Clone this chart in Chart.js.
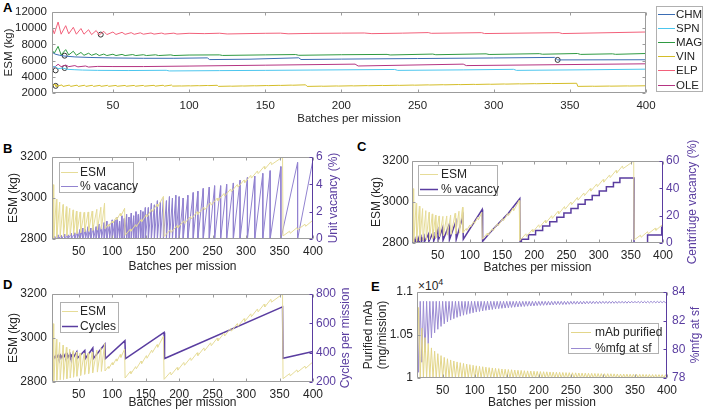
<!DOCTYPE html>
<html>
<head>
<meta charset="utf-8">
<script src="https://cdn.jsdelivr.net/npm/chart.js@4.4.0/dist/chart.umd.min.js"></script>
<style>
  body { margin: 0; background: #fff; width: 708px; height: 414px; position: relative; overflow: hidden; font-family: "Liberation Sans", Arial, sans-serif; }
  canvas { position: absolute; }
  .tag { position: absolute; font-weight: bold; font-size: 13px; color: #000; }
  .mult { position: absolute; font-size: 12px; color: #262626; }
  .mult sup { font-size: 9px; }
</style>
</head>
<body>
<div class="tag" style="left:3px;top:0px">A</div>
<div class="tag" style="left:3px;top:141px">B</div>
<div class="tag" style="left:357px;top:139px">C</div>
<div class="tag" style="left:3px;top:277px">D</div>
<div class="tag" style="left:371px;top:279px">E</div>
<div class="mult" style="left:418px;top:277px">×10<sup>4</sup></div>

<canvas id="chartA" width="708" height="132" style="left:0;top:0"></canvas>
<canvas id="chartB" width="354" height="138" style="left:0;top:140px"></canvas>
<canvas id="chartC" width="354" height="138" style="left:354px;top:140px"></canvas>
<canvas id="chartD" width="354" height="136" style="left:0;top:278px"></canvas>
<canvas id="chartE" width="354" height="136" style="left:354px;top:278px"></canvas>

<script>
// tick labels
const xTicks = [50, 100, 150, 200, 250, 300, 350, 400];
const esmTicksA = [2000, 4000, 6000, 8000, 10000, 12000];
const esmTicks = [2800, 3000, 3200];
const unitVacTicks = [0, 2, 4, 6];
const cenVacTicks = [0, 20, 40, 60];
const cycleTicks = [200, 400, 600, 800];
const mabTicks = [10000, 10500, 11000];
const mfgTicks = [78, 80, 82, 84];

// panel A: ESM (kg) vs batches per mission, [batches, ESM]
const systems = ["CHM", "SPN", "MAG", "VIN", "ELP", "OLE"];
const chm = [[10,7050],[12,6800],[15,6650],[18,6560],[25,6450],[35,6380],[50,6320],[70,6280],[90,6280],[112,6330],[113.5,6120],[140,6170],[172,6340],[173.5,6130],[200,6180],[250,6250],[300,6320],[340,6390],[342,6080],[400,6100]];
const spn = [[10,5150],[12,5280],[14,5000],[17,5080],[20,4920],[25,4870],[30,4830],[40,4790],[60,4770],[85,4800],[87,4720],[120,4760],[150,4790],[180,4830],[235,4900],[237,4790],[280,4850],[313,4920],[315,4790],[360,4860],[400,4940]];
const mag = [[10,7300],[11.5,6900],[14,7750],[16,6700],[19,7350],[21,6700],[24,7150],[26,6650],[29,7000],[31,6650],[34,6900],[36,6650],[39,6850],[41,6620],[44,6800],[46,6620],[50,6780],[52,6620],[56,6760],[58,6620],[63,6740],[65,6620],[70,6720],[72,6620],[78,6710],[80,6620],[88,6700],[90,6620],[100,6680],[120,6700],[122,6630],[150,6700],[170,6740],[172,6650],[200,6720],[230,6760],[232,6690],[260,6800],[262,6720],[295,6830],[297,6750],[330,6850],[332,6780],[355,6870],[357,6760],[378,6830],[380,6770],[400,6870]];
const elp = [[10,10150],[11.5,9300],[14,10750],[16,9250],[19,10300],[21,9300],[24,10100],[26,9250],[29,9950],[31,9250],[34,9800],[36,9200],[39,9700],[41,9150],[44,9600],[46,9200],[50,9520],[52,9220],[56,9480],[58,9230],[62,9440],[64,9240],[68,9420],[70,9250],[75,9400],[77,9260],[82,9390],[84,9270],[90,9380],[92,9270],[100,9360],[110,9320],[120,9370],[125,9280],[140,9330],[150,9360],[160,9380],[165,9300],[180,9350],[200,9380],[215,9400],[220,9320],[240,9380],[257,9450],[259,9360],[292,9440],[294,9330],[343,9440],[345,9330],[400,9520]];
const ole = [[10,5350],[11.5,5150],[14,5550],[16,5250],[19,5450],[21,5250],[25,5380],[27,5220],[32,5330],[34,5200],[40,5280],[50,5260],[70,5260],[100,5320],[150,5430],[209,5560],[211,5330],[280,5560],[282,5380],[400,5600]];
// VIN ESM, also the ESM line of panels B, C and D
const esm = [[10,2900],[12,3065],[12.6,2805],[16.5,2995],[17.2,2808],[21.5,2980],[22.2,2810],[26.5,2968],[27.2,2812],[31.5,2958],[32.2,2815],[36.5,2950],[37.2,2818],[41.5,2942],[42.2,2822],[46.5,2936],[47.2,2826],[52,2932],[52.8,2830],[58,2930],[58.8,2835],[64,2932],[64.8,2838],[70,2936],[70.8,2842],[77,2945],[77.8,2845],[83,2955],[83.8,2848],[88.5,2975],[89.2,2850],
  [94,2870],[95,2862],[100,2888],[101,2878],[106,2905],[107,2895],[112,2925],[113,2912],[118.5,2950],[119.2,2818],[127,2848],[128,2838],[135,2870],[136,2860],[143,2895],[144,2884],[151,2920],[152,2908],[159,2945],[160,2934],[167,2970],[168,2958],[176.5,3008],[177.5,2812],
  [187,2845],[188,2832],[197,2866],[198,2854],[207,2889],[208,2876],[217,2910],[218,2898],[227,2933],[228,2920],[237,2955],[238,2942],[247,2978],[248,2965],[257,3000],[258,2987],[267,3022],[268,3009],[277,3044],[278,3031],[287,3066],[288,3053],[297,3088],[298,3075],[307,3110],[308,3097],[317,3132],[318,3119],[327,3154],[328,3141],[337,3176],[338,3163],[354.5,3200],[355.2,2815],
  [365,2838],[366,2828],[376,2855],[377,2845],[388,2872],[389,2862],[400,2892]];
// selected designs (circles in panel A)
const markX = [12.4, 12.4, 18.3, 18.3, 42, 342];
const markY = [2880, 4790, 5080, 6600, 9200, 6080];

// panel B: unit vacancy (%), teeth as [batches at drop, peak]
const vacBStart = [10, 0];
const vacBFloor = 0;
const vacBTeeth = [[14,0.2],[19,0.3],[24,0.25],[29,0.35],[34,0.3],[39,0.4],[44,0.45],
  [48,0.6],[52,0.7],[56,0.8],[60,0.7],[64,0.9],[68,0.8],[72,1.0],[76,0.9],[80,1.1],[84,1.0],[88,1.2],[92,1.3],[96,1.1],[100,1.4],
  [104,1.4],[107.5,1.6],[111,1.3],[114.5,1.7],[118,1.5],[121.5,1.8],[125,1.6],[128.5,1.9],[132,1.7],[135.5,2.0],[139,1.8],[142.5,2.1],[146,2.0],[149.5,2.3],
  [154,2.3],[158.5,2.6],[163,2.5],[167.5,2.8],[172,2.7],[176.5,3.0],[181,2.8],[185.5,3.1],[190,3.0],[195,3.2],[200,3.1],
  [206,3.0],[213,3.2],[221,3.4],[228,3.5],[236,3.7],[245,3.8],[253,3.9],[262,3.9],
  [271,4.0],[281,4.1],[291,4.3],[302,4.5],[313,4.6],[325,4.8],[336,5.0],[352,5.3],[377,5.6]];
const vacBEnd = [400, 5.8];

// panel C: centrifuge vacancy (%)
const vacC = [[10,0.3],[11.5,2.5],[12.2,0.2],[14.5,2.8],[15.2,0.4],[17.5,3.2],[18.2,0.6],[20.5,3.6],[21.2,0.8],[24,4.2],[24.7,1],[28.5,5],[29.2,0.8],[35.5,6.5],[36.2,1.2],[43,8],[43.7,1.5],[50,9.5],[50.7,1.8],[57.5,11],[58.2,2],[67.5,13],[68.2,2.4],[78,15.5],[78.7,2.6],[89,19.5],[89.7,2.8],[119,24.5],[119.7,1.2],[130,7],[140,12],[150,17],[160,22],[170,28],[177.5,32.5],[178,0],
  [180,0],[180,2.8],[191,2.8],[191,6],[202,6],[202,9.2],[213,9.2],[213,12.4],[224,12.4],[224,15.6],[235,15.6],[235,18.8],[246,18.8],[246,22],[257,22],[257,25.2],[268,25.2],[268,28.4],[279,28.4],[279,31.6],[290,31.6],[290,34.8],[301,34.8],[301,38],[312,38],[312,41.2],[323,41.2],[323,44.2],[333,44.2],[333,47.5],[355,47.5],[355,0],[376,0],[376,5.8],[398,5.8],[398,11.6],[400,11.6]];

// panel D: cycles per mission
const cycles = [[10,365],[12,378],[13,362],[15.5,380],[16.5,363],[19,382],[20,364],[22.5,383],[23.5,364],[26,385],[27,365],[29.5,386],[30.5,366],[33,388],[34,367],[37,390],[38,368],[41,392],[42,368],[47,405],[47.8,362],[59,415],[59.8,360],[71,432],[71.8,360],[89,458],[89.8,360],[119,482],[119.8,360],[177.5,538],[178.2,360],[354.5,712],[355.2,362],[400,408]];

// panel E: purified mAb (mg/mission) and % manufacturing at steady state
const eBaseX = [10,15,20,25,30,35,40,45,50,55,60,65,70,75,80,85,90,95,100,105,110,115,120,125,130,135,140,145,150,155,160,165,170,175,180,185,190,195,200,205,210,215,220,225,230,235,240,245,250,255,260,265,270,275,280,285,290,295,300,305,310,315,320,325,330,335,340,345,350,355,360,365,370,375,380,385,390,395,400];
const ePeakX = [12.5,17.5,22.5,27.5,32.5,37.5,42.5,47.5,52.5,57.5,62.5,67.5,72.5,77.5,82.5,87.5,92.5,97.5,102.5,107.5,112.5,117.5,122.5,127.5,132.5,137.5,142.5,147.5,152.5,157.5,162.5,167.5,172.5,177.5,182.5,187.5,192.5,197.5,202.5,207.5,212.5,217.5,222.5,227.5,232.5,237.5,242.5,247.5,252.5,257.5,262.5,267.5,272.5,277.5,282.5,287.5,292.5,297.5,302.5,307.5,312.5,317.5,322.5,327.5,332.5,337.5,342.5,347.5,352.5,357.5,362.5,367.5,372.5,377.5,382.5,387.5,392.5,397.5];
const mabFloor = 10000;
const mabPeak = [10820,10580,10470,10400,10350,10312,10283,10260,10240,10224,
  10210,10198,10187,10178,10170,10162,10155,10148,10142,10136,
  10131,10126,10121,10117,10113,10109,10105,10102,10099,10096,
  10093,10090,10088,10085,10083,10081,10079,10077,10075,10073,
  10072,10070,10069,10067,10066,10064,10063,10062,10061,10060,
  10058,10057,10056,10055,10054,10053,10052,10051,10050,10050,
  10049,10048,10047,10046,10046,10045,10044,10044,10043,10042,
  10042,10041,10041,10040,10040,10039,10039,10038];
const mfgTop = 83.35;
const mfgLow = [78.4,79.1,79.8,80.4,80.8,81.15,81.4,81.6,81.78,81.92,
  82.04,82.14,82.23,82.31,82.38,82.44,82.5,82.55,82.6,82.64,
  82.68,82.72,82.75,82.78,82.81,82.84,82.86,82.88,82.9,82.92,
  82.94,82.96,82.98,82.99,83.01,83.02,83.03,83.05,83.06,83.07,
  83.08,83.09,83.1,83.11,83.12,83.12,83.13,83.14,83.15,83.15,
  83.16,83.16,83.17,83.18,83.18,83.19,83.19,83.2,83.2,83.2,
  83.21,83.21,83.21,83.22,83.22,83.22,83.23,83.23,83.23,83.24,
  83.24,83.24,83.24,83.25,83.25,83.25,83.25,83.26];

// ---- styling ----
const FONT = '"Liberation Sans", Arial, sans-serif';
const TXT = '#262626';
const PURPLE = '#5a3da0';
const colA = { CHM: '#3b6db4', SPN: '#4cc6ee', MAG: '#2f9a42', VIN: '#d4bd28', ELP: '#f2607a', OLE: '#b53482' };
const ESM_COL = '#e6dc98';

const pts = pairs => pairs.map(p => ({ x: p[0], y: p[1] }));

// sawtooth of panel B: rise to peak, straight drop to the floor
const vacBLine = [{ x: vacBStart[0], y: vacBStart[1] }];
vacBTeeth.forEach(t => {
  vacBLine.push({ x: t[0], y: t[1] });
  vacBLine.push({ x: t[0], y: vacBFloor });
});
vacBLine.push({ x: vacBEnd[0], y: vacBEnd[1] });

// zigzags of panel E
const mabLine = [], mfgLine = [];
eBaseX.forEach((x, i) => {
  mabLine.push({ x: x, y: mabFloor });
  mfgLine.push({ x: x, y: mfgTop });
  if (i < ePeakX.length) {
    mabLine.push({ x: ePeakX[i], y: mabPeak[i] });
    mfgLine.push({ x: ePeakX[i], y: mfgLow[i] });
  }
});

// box, inward tick marks and the right axis title
const frame = {
  id: 'frame',
  afterDatasetsDraw(chart, args, o) {
    const { ctx, chartArea: a } = chart;
    const L = Math.round(a.left) + 0.5, R = Math.round(a.right) - 0.5;
    const T = Math.round(a.top) + 0.5, B = Math.round(a.bottom) - 0.5;
    const tl = o.tick;
    const yr = chart.scales.y2;
    ctx.save();
    ctx.lineWidth = 1;
    ctx.strokeStyle = '#9c9c9c';
    ctx.beginPath();
    ctx.moveTo(R, T); ctx.lineTo(L, T); ctx.lineTo(L, B); ctx.lineTo(R, B);
    if (!yr) ctx.lineTo(R, T);
    chart.scales.x.ticks.forEach(t => {
      const p = Math.round(chart.scales.x.getPixelForValue(t.value)) + 0.5;
      ctx.moveTo(p, B); ctx.lineTo(p, B - tl);
      ctx.moveTo(p, T); ctx.lineTo(p, T + tl);
    });
    chart.scales.y.ticks.forEach(t => {
      const p = Math.round(chart.scales.y.getPixelForValue(t.value)) + 0.5;
      ctx.moveTo(L, p); ctx.lineTo(L + tl, p);
      if (!yr) { ctx.moveTo(R, p); ctx.lineTo(R - tl, p); }
    });
    ctx.stroke();
    if (yr) {
      ctx.strokeStyle = PURPLE;
      ctx.beginPath();
      ctx.moveTo(R, T); ctx.lineTo(R, B);
      yr.ticks.forEach(t => {
        const p = Math.round(yr.getPixelForValue(t.value)) + 0.5;
        ctx.moveTo(R, p); ctx.lineTo(R - tl, p);
      });
      ctx.stroke();
    }
    if (o.rightTitle) {
      ctx.fillStyle = PURPLE;
      ctx.font = o.size + 'px ' + FONT;
      ctx.textAlign = 'center';
      ctx.textBaseline = 'middle';
      ctx.translate(o.rightX, (a.top + a.bottom) / 2);
      ctx.rotate(-Math.PI / 2);
      ctx.fillText(o.rightTitle, 0, 0);
    }
    ctx.restore();
  }
};

// boxed legend placed anywhere on the canvas
const boxLegend = {
  id: 'boxLegend',
  afterDraw(chart, args, o) {
    if (!o.rows) return;
    const ctx = chart.ctx;
    ctx.save();
    ctx.fillStyle = '#fff';
    ctx.fillRect(o.x, o.y, o.w, o.h);
    ctx.strokeStyle = '#b0b0b0';
    ctx.lineWidth = 1;
    ctx.strokeRect(o.x + 0.5, o.y + 0.5, o.w, o.h);
    ctx.font = o.size + 'px ' + FONT;
    ctx.textBaseline = 'middle';
    ctx.fillStyle = TXT;
    o.rows.forEach((r, i) => {
      const ds = chart.data.datasets[r];
      const y = Math.round(o.y + o.first + i * o.gap) + 0.5;
      ctx.strokeStyle = ds.borderColor;
      ctx.lineWidth = ds.borderWidth;
      ctx.beginPath();
      ctx.moveTo(o.x + o.l0, y); ctx.lineTo(o.x + o.l1, y);
      ctx.stroke();
      ctx.fillText(ds.label, o.x + o.tx, y);
    });
    ctx.restore();
  }
};

const plain = v => String(v);

function xAxis(h, size, tickPad, titlePad) {
  return {
    type: 'linear', position: 'bottom', min: 10, max: 400,
    grid: { display: false, drawTicks: false }, border: { display: false },
    afterBuildTicks: s => { s.ticks = xTicks.map(v => ({ value: v })); },
    afterFit: s => { s.height = h; },
    ticks: { color: TXT, font: { family: FONT, size: size }, padding: tickPad, maxRotation: 0, autoSkip: false, callback: plain },
    title: { display: true, text: 'Batches per mission', color: TXT, font: { family: FONT, size: size }, padding: { top: 0, bottom: titlePad } }
  };
}

function yAxis(pos, min, max, ticks, w, size, tickPad, color, title, titlePad, fmt) {
  return {
    type: 'linear', position: pos, min: min, max: max,
    grid: { display: false, drawTicks: false }, border: { display: false },
    afterBuildTicks: s => { s.ticks = ticks.map(v => ({ value: v })); },
    afterFit: s => { s.width = w; },
    ticks: { color: color, font: { family: FONT, size: size }, padding: tickPad, autoSkip: false, callback: fmt || plain },
    title: { display: !!title, text: title, color: TXT, font: { family: FONT, size: size }, padding: { top: titlePad, bottom: 0 } }
  };
}

function line(label, data, color, width) {
  return { label: label, data: data, borderColor: color, backgroundColor: color, borderWidth: width, pointRadius: 0, tension: 0, fill: false };
}

function makeChart(id, datasets, scales, pad, frameOpts, legendOpts) {
  return new Chart(document.getElementById(id), {
    type: 'line',
    data: { datasets: datasets },
    options: {
      responsive: false, animation: false, devicePixelRatio: 1,
      layout: { padding: pad },
      scales: scales,
      plugins: { legend: { display: false }, tooltip: { enabled: false }, frame: frameOpts, boxLegend: legendOpts }
    },
    plugins: [frame, boxLegend]
  });
}

// ---- A ----
const seriesA = { CHM: chm, SPN: spn, MAG: mag, VIN: esm, ELP: elp, OLE: ole };
const dsA = systems.map(s => line(s, pts(seriesA[s]), colA[s], 1));
dsA.push({
  label: 'design', data: markX.map((x, i) => ({ x: x, y: markY[i] })), showLine: false,
  pointRadius: 2.5, pointBorderColor: '#333', pointBackgroundColor: 'rgba(255,255,255,0.5)', pointBorderWidth: 1
});
makeChart('chartA', dsA, {
  x: xAxis(39, 11.5, 6, 6),
  y: yAxis('left', 2000, 12000, esmTicksA, 52, 11.5, 5, TXT, 'ESM (kg)', 2)
}, { top: 6, right: 62, left: 0, bottom: 0 }, { tick: 3 },
  { x: 656, y: 6, w: 46, h: 85, size: 11.5, first: 8, gap: 14.1, l0: 2, l1: 19, tx: 20, rows: [0, 1, 2, 3, 4, 5] });

// ---- B ----
makeChart('chartB', [
  line('ESM', pts(esm), ESM_COL, 1),
  { ...line('% vacancy', vacBLine, '#9283d0', 1), yAxisID: 'y2' }
], {
  x: xAxis(39, 12, 5, 4),
  y: yAxis('left', 2800, 3200, esmTicks, 52, 12, 5, TXT, 'ESM (kg)', 6),
  y2: yAxis('right', 0, 6, unitVacTicks, 41, 12, 3, PURPLE, '', 0)
}, { top: 17, right: 0, left: 0, bottom: 0 }, { tick: 3, rightTitle: 'Unit vacancy (%)', rightX: 334, size: 12 },
  { x: 59, y: 22, w: 74, h: 30, size: 12, first: 9.5, gap: 14, l0: 2, l1: 19, tx: 21, rows: [0, 1] });

// ---- C ----
makeChart('chartC', [
  line('ESM', pts(esm), ESM_COL, 1),
  { ...line('% vacancy', pts(vacC), PURPLE, 1.5), yAxisID: 'y2' }
], {
  x: xAxis(35, 12, 5, 3),
  y: yAxis('left', 2800, 3200, esmTicks, 58, 12, 3, TXT, 'ESM (kg)', 15),
  y2: yAxis('right', 0, 60, cenVacTicks, 45, 12, 3, PURPLE, '', 0)
}, { top: 21, right: 0, left: 0, bottom: 0 }, { tick: 3, rightTitle: 'Centrifuge vacancy (%)', rightX: 339, size: 12 },
  { x: 64, y: 25, w: 79, h: 30, size: 12, first: 8.5, gap: 15, l0: 2, l1: 20, tx: 23, rows: [0, 1] });

// ---- D ----
makeChart('chartD', [
  line('ESM', pts(esm), ESM_COL, 1),
  { ...line('Cycles', pts(cycles), PURPLE, 1.5), yAxisID: 'y2' }
], {
  x: xAxis(32, 12, 5, 4),
  y: yAxis('left', 2800, 3200, esmTicks, 52, 12, 5, TXT, 'ESM (kg)', 6),
  y2: yAxis('right', 200, 800, cycleTicks, 41, 12, 3, PURPLE, '', 0)
}, { top: 16, right: 0, left: 0, bottom: 0 }, { tick: 3, rightTitle: 'Cycles per mission', rightX: 346, size: 12 },
  { x: 60, y: 24, w: 58, h: 30, size: 12, first: 8.5, gap: 15, l0: 2, l1: 18, tx: 20, rows: [0, 1] });

// ---- E ----
makeChart('chartE', [
  line('mAb purified', mabLine, '#e3d68a', 1),
  { ...line('%mfg at sf', mfgLine, '#9a8ad2', 1), yAxisID: 'y2' }
], {
  x: xAxis(36, 12, 5, 4),
  y: yAxis('left', 10000, 11000, mabTicks, 63, 12, 4, TXT, ['Purified mAb', '(mg/mission)'], 7, v => String(v / 10000)),
  y2: yAxis('right', 78, 84, mfgTicks, 41, 12, 5, PURPLE, '', 0)
}, { top: 14, right: 0, left: 0, bottom: 0 }, { tick: 3, rightTitle: '%mfg at sf', rightX: 342, size: 12 },
  { x: 214, y: 45, w: 90, h: 30, size: 12, first: 9, gap: 15.5, l0: 3, l1: 23, tx: 27, rows: [0, 1] });
</script>
</body>
</html>
